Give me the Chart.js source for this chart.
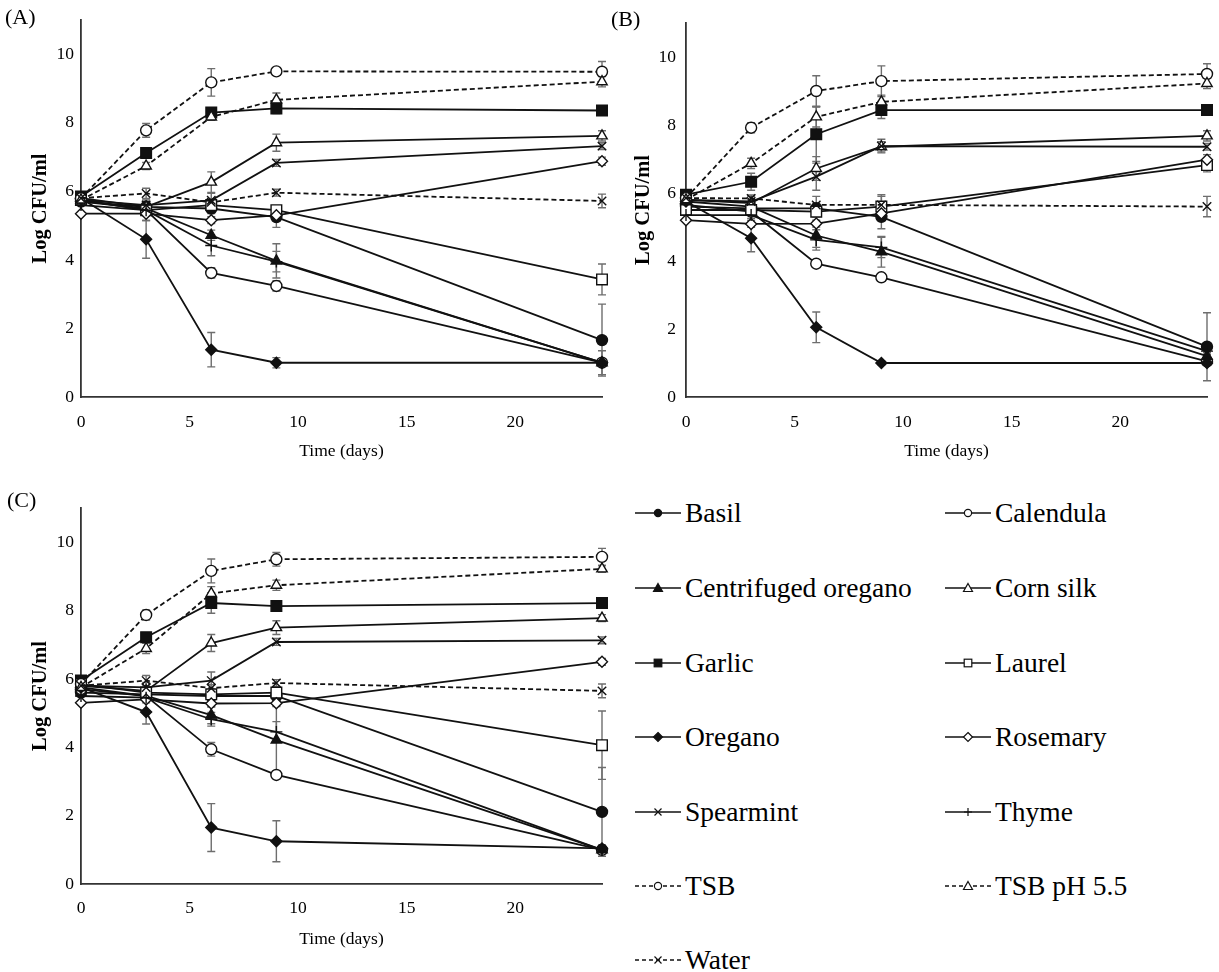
<!DOCTYPE html>
<html><head><meta charset="utf-8">
<script src="https://cdn.jsdelivr.net/npm/chart.js@4.4.0/dist/chart.umd.min.js"></script>
<style>
body{margin:0;background:#fff;width:1219px;height:972px;position:relative;overflow:hidden;font-family:'Liberation Serif','Times New Roman',serif;}
canvas.panel{position:absolute;}
.plabel{position:absolute;font-size:22px;color:#000;line-height:1;}
.leg{position:absolute;height:32px;font-size:27.5px;color:#000;display:flex;align-items:center;white-space:nowrap;line-height:1;}
.leg svg{margin-right:4px;flex:none;}
</style></head><body>
<canvas id="cA" class="panel" width="612" height="467" style="left:0px;top:0px"></canvas>
<canvas id="cB" class="panel" width="614" height="467" style="left:605px;top:0px"></canvas>
<canvas id="cC" class="panel" width="612" height="467" style="left:0px;top:487px"></canvas>
<div class="plabel" style="left:5px;top:6px">(A)</div>
<div class="plabel" style="left:611px;top:8px">(B)</div>
<div class="plabel" style="left:7px;top:489px">(C)</div>
<div id="legend"></div>
<script>
// ---- data ----
const days = [0, 3, 6, 9, 24];
const seriesNames = ['Basil','Calendula','Centrifuged oregano','Corn silk','Garlic','Laurel','Oregano','Rosemary','Spearmint','Thyme','TSB','TSB pH 5.5','Water'];
const yTickValues = [0, 2, 4, 6, 8, 10];
const xTickValues = [0, 5, 10, 15, 20];
const xTitle = 'Time (days)';
const yTitle = 'Log CFU/ml';

// Panel A
const A_Basil        = [5.70, 5.55, 5.50, 5.25, 1.66];
const A_Calendula    = [5.75, 5.45, 3.62, 3.24, 1.00];
const A_CentOregano  = [5.70, 5.50, 4.72, 3.97, 1.00];
const A_CornSilk     = [5.80, 5.55, 6.27, 7.42, 7.62];
const A_Garlic       = [5.85, 7.12, 8.30, 8.42, 8.36];
const A_Laurel       = [5.75, 5.45, 5.60, 5.45, 3.43];
const A_Oregano      = [5.80, 4.60, 1.38, 1.00, 1.00];
const A_Rosemary     = [5.35, 5.35, 5.16, 5.30, 6.88];
const A_Spearmint    = [5.75, 5.60, 5.74, 6.83, 7.32];
const A_Thyme        = [5.60, 5.45, 4.42, 3.95, 1.00];
const A_TSB          = [5.80, 7.78, 9.18, 9.50, 9.49];
const A_TSB55        = [5.75, 6.74, 8.17, 8.67, 9.20];
const A_Water        = [5.80, 5.94, 5.68, 5.96, 5.72];
const A_err_Basil       = [0, 0.10, 0.15, 0.30, 1.05];
const A_err_Calendula   = [0, 0.10, 0.15, 0.15, 0.35];
const A_err_CentOregano = [0, 0.10, 0.15, 0.50, 0.10];
const A_err_CornSilk    = [0, 0.10, 0.30, 0.25, 0.15];
const A_err_Garlic      = [0, 0.15, 0.10, 0.15, 0.10];
const A_err_Laurel      = [0, 0.30, 0.15, 0.10, 0.45];
const A_err_Oregano     = [0, 0.55, 0.50, 0.15, 0.10];
const A_err_Rosemary    = [0, 0.05, 0.10, 0.10, 0.12];
const A_err_Spearmint   = [0, 0.10, 0.20, 0.10, 0.10];
const A_err_Thyme       = [0, 0.10, 0.30, 0.30, 0.10];
const A_err_TSB         = [0, 0.20, 0.40, 0.10, 0.30];
const A_err_TSB55       = [0, 0.10, 0.10, 0.20, 0.15];
const A_err_Water       = [0, 0.15, 0.10, 0.10, 0.20];

// Panel B
const B_Basil        = [5.60, 5.55, 5.55, 5.30, 1.48];
const B_Calendula    = [5.65, 5.45, 3.92, 3.52, 1.05];
const B_CentOregano  = [5.75, 5.60, 4.75, 4.27, 1.20];
const B_CornSilk     = [5.80, 5.70, 6.72, 7.36, 7.68];
const B_Garlic       = [5.95, 6.33, 7.73, 8.44, 8.44];
const B_Laurel       = [5.50, 5.50, 5.45, 5.60, 6.82];
const B_Oregano      = [5.75, 4.67, 2.05, 1.00, 1.00];
const B_Rosemary     = [5.20, 5.09, 5.10, 5.40, 6.98];
const B_Spearmint    = [5.80, 5.75, 6.48, 7.38, 7.36];
const B_Thyme        = [5.35, 5.35, 4.62, 4.40, 1.35];
const B_TSB          = [5.85, 7.92, 9.00, 9.29, 9.50];
const B_TSB55        = [5.80, 6.87, 8.24, 8.68, 9.22];
const B_Water        = [5.85, 5.84, 5.65, 5.65, 5.60];
const B_err_Basil       = [0, 0.10, 0.15, 0.35, 1.00];
const B_err_Calendula   = [0, 0.10, 0.10, 0.10, 0.10];
const B_err_CentOregano = [0, 0.10, 0.35, 0.45, 0.10];
const B_err_CornSilk    = [0, 0.10, 0.35, 0.15, 0.15];
const B_err_Garlic      = [0, 0.25, 0.80, 0.25, 0.10];
const B_err_Laurel      = [0, 0.10, 0.15, 0.30, 0.20];
const B_err_Oregano     = [0, 0.40, 0.45, 0.05, 0.05];
const B_err_Rosemary    = [0, 0.10, 0.10, 0.10, 0.15];
const B_err_Spearmint   = [0, 0.15, 0.40, 0.20, 0.10];
const B_err_Thyme       = [0, 0.10, 0.30, 0.30, 0.10];
const B_err_TSB         = [0, 0.15, 0.45, 0.45, 0.30];
const B_err_TSB55       = [0, 0.15, 0.30, 0.20, 0.15];
const B_err_Water       = [0, 0.10, 0.25, 0.30, 0.30];

// Panel C
const C_Basil        = [5.60, 5.55, 5.50, 5.50, 2.11];
const C_Calendula    = [5.70, 5.50, 3.94, 3.19, 1.00];
const C_CentOregano  = [5.75, 5.50, 4.94, 4.21, 1.00];
const C_CornSilk     = [5.80, 5.65, 7.05, 7.50, 7.78];
const C_Garlic       = [5.95, 7.22, 8.22, 8.13, 8.22];
const C_Laurel       = [5.85, 5.60, 5.55, 5.60, 4.06];
const C_Oregano      = [5.75, 5.03, 1.65, 1.25, 1.04];
const C_Rosemary     = [5.30, 5.40, 5.28, 5.29, 6.50];
const C_Spearmint    = [5.80, 5.75, 5.95, 7.08, 7.13];
const C_Thyme        = [5.50, 5.45, 4.82, 4.45, 1.00];
const C_TSB          = [5.85, 7.87, 9.16, 9.50, 9.57];
const C_TSB55        = [5.75, 6.89, 8.50, 8.74, 9.22];
const C_Water        = [5.80, 5.95, 5.73, 5.88, 5.65];
const C_err_Basil       = [0, 0.10, 0.10, 0.10, 1.30];
const C_err_Calendula   = [0, 0.10, 0.20, 0.10, 0.10];
const C_err_CentOregano = [0, 0.10, 0.25, 1.00, 0.10];
const C_err_CornSilk    = [0, 0.10, 0.25, 0.20, 0.10];
const C_err_Garlic      = [0, 0.10, 0.30, 0.10, 0.10];
const C_err_Laurel      = [0, 0.10, 0.10, 0.10, 1.00];
const C_err_Oregano     = [0, 0.35, 0.70, 0.60, 0.10];
const C_err_Rosemary    = [0, 0.10, 0.10, 0.10, 0.10];
const C_err_Spearmint   = [0, 0.15, 0.25, 0.10, 0.10];
const C_err_Thyme       = [0, 0.10, 0.20, 0.30, 0.10];
const C_err_TSB         = [0, 0.15, 0.35, 0.20, 0.25];
const C_err_TSB55       = [0, 0.15, 0.20, 0.15, 0.10];
const C_err_Water       = [0, 0.15, 0.10, 0.10, 0.20];

// ---- styles ----
const styles = {
  'Basil':               {pt:'circle',   fill:true,  dash:false, r:5.5},
  'Calendula':           {pt:'circle',   fill:false, dash:false, r:5.5},
  'Centrifuged oregano': {pt:'triangle', fill:true,  dash:false, r:6},
  'Corn silk':           {pt:'triangle', fill:false, dash:false, r:6},
  'Garlic':              {pt:'rect',     fill:true,  dash:false, r:7.5},
  'Laurel':              {pt:'rect',     fill:false, dash:false, r:7.5},
  'Oregano':             {pt:'rectRot',  fill:true,  dash:false, r:5.5},
  'Rosemary':            {pt:'rectRot',  fill:false, dash:false, r:5.5},
  'Spearmint':           {pt:'crossRot', fill:false, dash:false, r:6},
  'Thyme':               {pt:'cross',    fill:false, dash:false, r:6},
  'TSB':                 {pt:'circle',   fill:false, dash:true,  r:5.5},
  'TSB pH 5.5':          {pt:'triangle', fill:false, dash:true,  r:6},
  'Water':               {pt:'crossRot', fill:false, dash:true,  r:6}
};
const FONT = "'Liberation Serif','Times New Roman',serif";
const INK = '#111';

const panelA = [A_Basil,A_Calendula,A_CentOregano,A_CornSilk,A_Garlic,A_Laurel,A_Oregano,A_Rosemary,A_Spearmint,A_Thyme,A_TSB,A_TSB55,A_Water];
const panelAErr = [A_err_Basil,A_err_Calendula,A_err_CentOregano,A_err_CornSilk,A_err_Garlic,A_err_Laurel,A_err_Oregano,A_err_Rosemary,A_err_Spearmint,A_err_Thyme,A_err_TSB,A_err_TSB55,A_err_Water];
const panelB = [B_Basil,B_Calendula,B_CentOregano,B_CornSilk,B_Garlic,B_Laurel,B_Oregano,B_Rosemary,B_Spearmint,B_Thyme,B_TSB,B_TSB55,B_Water];
const panelBErr = [B_err_Basil,B_err_Calendula,B_err_CentOregano,B_err_CornSilk,B_err_Garlic,B_err_Laurel,B_err_Oregano,B_err_Rosemary,B_err_Spearmint,B_err_Thyme,B_err_TSB,B_err_TSB55,B_err_Water];
const panelC = [C_Basil,C_Calendula,C_CentOregano,C_CornSilk,C_Garlic,C_Laurel,C_Oregano,C_Rosemary,C_Spearmint,C_Thyme,C_TSB,C_TSB55,C_Water];
const panelCErr = [C_err_Basil,C_err_Calendula,C_err_CentOregano,C_err_CornSilk,C_err_Garlic,C_err_Laurel,C_err_Oregano,C_err_Rosemary,C_err_Spearmint,C_err_Thyme,C_err_TSB,C_err_TSB55,C_err_Water];

const errorBars = {
  id: 'errorBars',
  beforeDatasetsDraw(chart) {
    const {ctx, scales: {x, y}} = chart;
    ctx.save();
    ctx.strokeStyle = '#6e6e6e';
    ctx.lineWidth = 1.4;
    chart.data.datasets.forEach(ds => {
      const err = ds.errors;
      if (!err) return;
      ds.data.forEach((p, i) => {
        const e = err[i];
        if (!e) return;
        const px = x.getPixelForValue(p.x);
        const t = y.getPixelForValue(p.y + e);
        const b = y.getPixelForValue(Math.max(p.y - e, 0));
        ctx.beginPath();
        ctx.moveTo(px, t); ctx.lineTo(px, b);
        ctx.moveTo(px - 4, t); ctx.lineTo(px + 4, t);
        ctx.moveTo(px - 4, b); ctx.lineTo(px + 4, b);
        ctx.stroke();
      });
    });
    ctx.restore();
  }
};

function makeDatasets(vals, errs) {
  return seriesNames.map((name, i) => {
    const s = styles[name];
    return {
      label: name,
      data: days.map((d, k) => ({x: d, y: vals[i][k]})),
      errors: errs[i],
      borderColor: INK,
      borderWidth: 1.8,
      borderDash: s.dash ? [5, 3] : [],
      pointStyle: s.pt,
      pointRadius: s.r,
      pointBorderWidth: 1.4,
      pointBorderColor: INK,
      pointBackgroundColor: s.fill ? INK : '#fff',
      fill: false,
      tension: 0,
      clip: false,
      order: seriesNames.length - i
    };
  });
}

function makeChart(id, vals, errs, cfg) {
  return new Chart(document.getElementById(id), {
    type: 'line',
    data: {datasets: makeDatasets(vals, errs)},
    plugins: [errorBars],
    options: {
      responsive: false,
      animation: false,
      devicePixelRatio: 1,
      layout: {padding: {left: 0, right: cfg.right, top: cfg.top, bottom: 0}},
      plugins: {legend: {display: false}, tooltip: {enabled: false}},
      scales: {
        x: {
          type: 'linear', min: 0, max: 24,
          afterBuildTicks: s => { s.ticks = xTickValues.map(v => ({value: v})); },
          grid: {display: false, drawTicks: false},
          border: {display: true, color: '#333', width: 1.8},
          ticks: {padding: cfg.xPad, color: '#000', font: {family: FONT, size: 17.5}},
          title: {display: true, text: xTitle, color: '#000', font: {family: FONT, size: 17.5}, padding: {top: 0, bottom: cfg.xTitlePad}},
          afterFit: s => { s.height = 70; }
        },
        y: {
          min: 0, max: 11,
          afterBuildTicks: s => { s.ticks = yTickValues.map(v => ({value: v})); },
          grid: {display: false, drawTicks: false},
          border: {display: true, color: '#333', width: 1.8},
          ticks: {padding: cfg.yPad, color: '#000', font: {family: FONT, size: 17.5}},
          title: {display: true, text: yTitle, color: '#000', font: {family: FONT, size: 20.5, weight: 'bold'}, padding: {top: cfg.yTitlePad, bottom: 0}},
          afterFit: s => { s.width = 81; }
        }
      }
    }
  });
}

makeChart('cA', panelA, panelAErr, {right: 10, top: 20, xPad: 15, xTitlePad: 5, yPad: 7, yTitlePad: 28});
makeChart('cB', panelB, panelBErr, {right: 12, top: 23, xPad: 15, xTitlePad: 5, yPad: 10, yTitlePad: 26});
makeChart('cC', panelC, panelCErr, {right: 10, top: 21, xPad: 14, xTitlePad: 4, yPad: 7, yTitlePad: 28});

// ---- legend (HTML) ----
function markerSVG(s, cx, cy) {
  const fill = s.fill ? INK : '#fff';
  const sw = 1.2;
  switch (s.pt) {
    case 'circle': return `<circle cx="${cx}" cy="${cy}" r="3.6" fill="${fill}" stroke="${INK}" stroke-width="${sw}"/>`;
    case 'triangle': return `<polygon points="${cx},${cy-4.5} ${cx+4.5},${cy+3.5} ${cx-4.5},${cy+3.5}" fill="${fill}" stroke="${INK}" stroke-width="${sw}"/>`;
    case 'rect': return `<rect x="${cx-3.8}" y="${cy-3.8}" width="7.6" height="7.6" fill="${fill}" stroke="${INK}" stroke-width="${sw}"/>`;
    case 'rectRot': return `<polygon points="${cx},${cy-4.5} ${cx+4.5},${cy} ${cx},${cy+4.5} ${cx-4.5},${cy}" fill="${fill}" stroke="${INK}" stroke-width="${sw}"/>`;
    case 'cross': return `<path d="M${cx} ${cy-4}V${cy+4}M${cx-4} ${cy}H${cx+4}" stroke="${INK}" stroke-width="${sw}"/>`;
    case 'crossRot': return `<path d="M${cx-3.5} ${cy-3.5}L${cx+3.5} ${cy+3.5}M${cx-3.5} ${cy+3.5}L${cx+3.5} ${cy-3.5}" stroke="${INK}" stroke-width="${sw}"/>`;
  }
  return '';
}
const legendEl = document.getElementById('legend');
const legRowsY = [513, 588, 663, 737, 812, 886, 960];
const legColsX = [635, 945];
seriesNames.forEach((name, i) => {
  const s = styles[name];
  const row = Math.floor(i / 2), col = i % 2;
  const div = document.createElement('div');
  div.className = 'leg';
  div.style.left = legColsX[col] + 'px';
  div.style.top = (legRowsY[row] - 16) + 'px';
  const dash = s.dash ? 'stroke-dasharray="4,3"' : '';
  div.innerHTML = `<svg width="46" height="16" viewBox="0 0 46 16"><line x1="0" y1="8" x2="46" y2="8" stroke="${INK}" stroke-width="1.6" ${dash}/>${markerSVG(s, 23, 8)}</svg><span>${name}</span>`;
  legendEl.appendChild(div);
});
</script>
</body></html>
